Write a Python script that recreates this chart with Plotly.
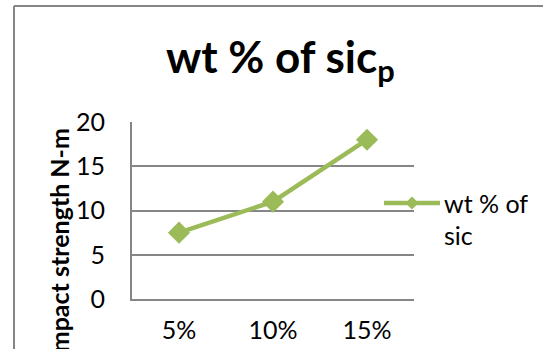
import plotly.graph_objects as go

# Impact strength for each SiCp weight fraction
categories = ["5%", "10%", "15%"]
impact_strength = [7.5, 11, 18]
y_ticks = [0, 5, 10, 15, 20]

series_name = "wt % of sic"
green = "#9BBB59"
grey = "#868686"
font_family = "Lato, Calibri, 'Liberation Sans', sans-serif"

W, H = 543, 349
L, R, T, B = 132, 129, 122, 50
pw, ph = W - L - R, H - T - B


def px(x):
    return (x - L) / pw


def py(y):
    return (H - B - y) / ph


fig = go.Figure()
fig.add_trace(go.Scatter(
    x=categories, y=impact_strength, mode="lines+markers",
    name=series_name, showlegend=False,
    line=dict(color=green, width=4.5),
    marker=dict(symbol="diamond", size=17, color=green),
))

# outer chart frame (left and top edges visible)
fig.add_shape(type="line", xref="paper", yref="paper",
              x0=px(14), x1=px(560), y0=py(6), y1=py(6),
              line=dict(color=grey, width=2))
fig.add_shape(type="line", xref="paper", yref="paper",
              x0=px(14), x1=px(14), y0=py(6), y1=py(360),
              line=dict(color=grey, width=2))

# legend entry: line with diamond, wrapped label
lx0, lx1, ly = 384, 440, 203
fig.add_shape(type="line", xref="paper", yref="paper",
              x0=px(lx0), x1=px(lx1), y0=py(ly), y1=py(ly),
              line=dict(color=green, width=4.5))
d = 6.5
cx = (lx0 + lx1) / 2
fig.add_shape(type="path", xref="paper", yref="paper",
              path=f"M {px(cx - d)} {py(ly)} L {px(cx)} {py(ly - d)} "
                   f"L {px(cx + d)} {py(ly)} L {px(cx)} {py(ly + d)} Z",
              fillcolor=green, line=dict(color=green, width=0))
fig.add_annotation(xref="paper", yref="paper", x=px(442), y=py(203),
                   xanchor="left", yanchor="middle", showarrow=False,
                   text="wt % of", font=dict(size=25, color="#000000", family=font_family))
fig.add_annotation(xref="paper", yref="paper", x=px(442), y=py(235),
                   xanchor="left", yanchor="middle", showarrow=False,
                   text="sic", font=dict(size=25, color="#000000", family=font_family))

# chart title
fig.add_annotation(xref="paper", yref="paper", x=px(280), y=py(60),
                   xanchor="center", yanchor="middle", showarrow=False,
                   text="<b>wt % of sic<sub>p</sub></b>",
                   font=dict(size=44, color="#000000", family=font_family))

# y-axis title
fig.add_annotation(xref="paper", yref="paper", x=px(58), y=py(127),
                   xanchor="center", yanchor="top", showarrow=False,
                   textangle=-90, text="<b>Impact strength N-m</b>",
                   font=dict(size=25, color="#000000", family=font_family))

fig.update_layout(
    width=W, height=H,
    margin=dict(l=L, r=R, t=T, b=B, autoexpand=False),
    paper_bgcolor="white", plot_bgcolor="white",
    font=dict(family=font_family, size=25, color="#000000"),
)
fig.update_xaxes(
    type="category", range=[-0.5, 2.5], showgrid=False,
    showline=True, linecolor=grey, linewidth=2,
    ticks="", ticklabelstandoff=8, automargin=False,
    tickfont=dict(size=25, family=font_family),
)
fig.update_yaxes(
    range=[0, 20], tickvals=y_ticks, showgrid=True,
    gridcolor=grey, gridwidth=2, zeroline=False,
    showline=True, linecolor=grey, linewidth=2,
    ticks="", ticklabelstandoff=20, automargin=False,
    tickfont=dict(size=25, family=font_family),
)

fig.write_html("out.html")
